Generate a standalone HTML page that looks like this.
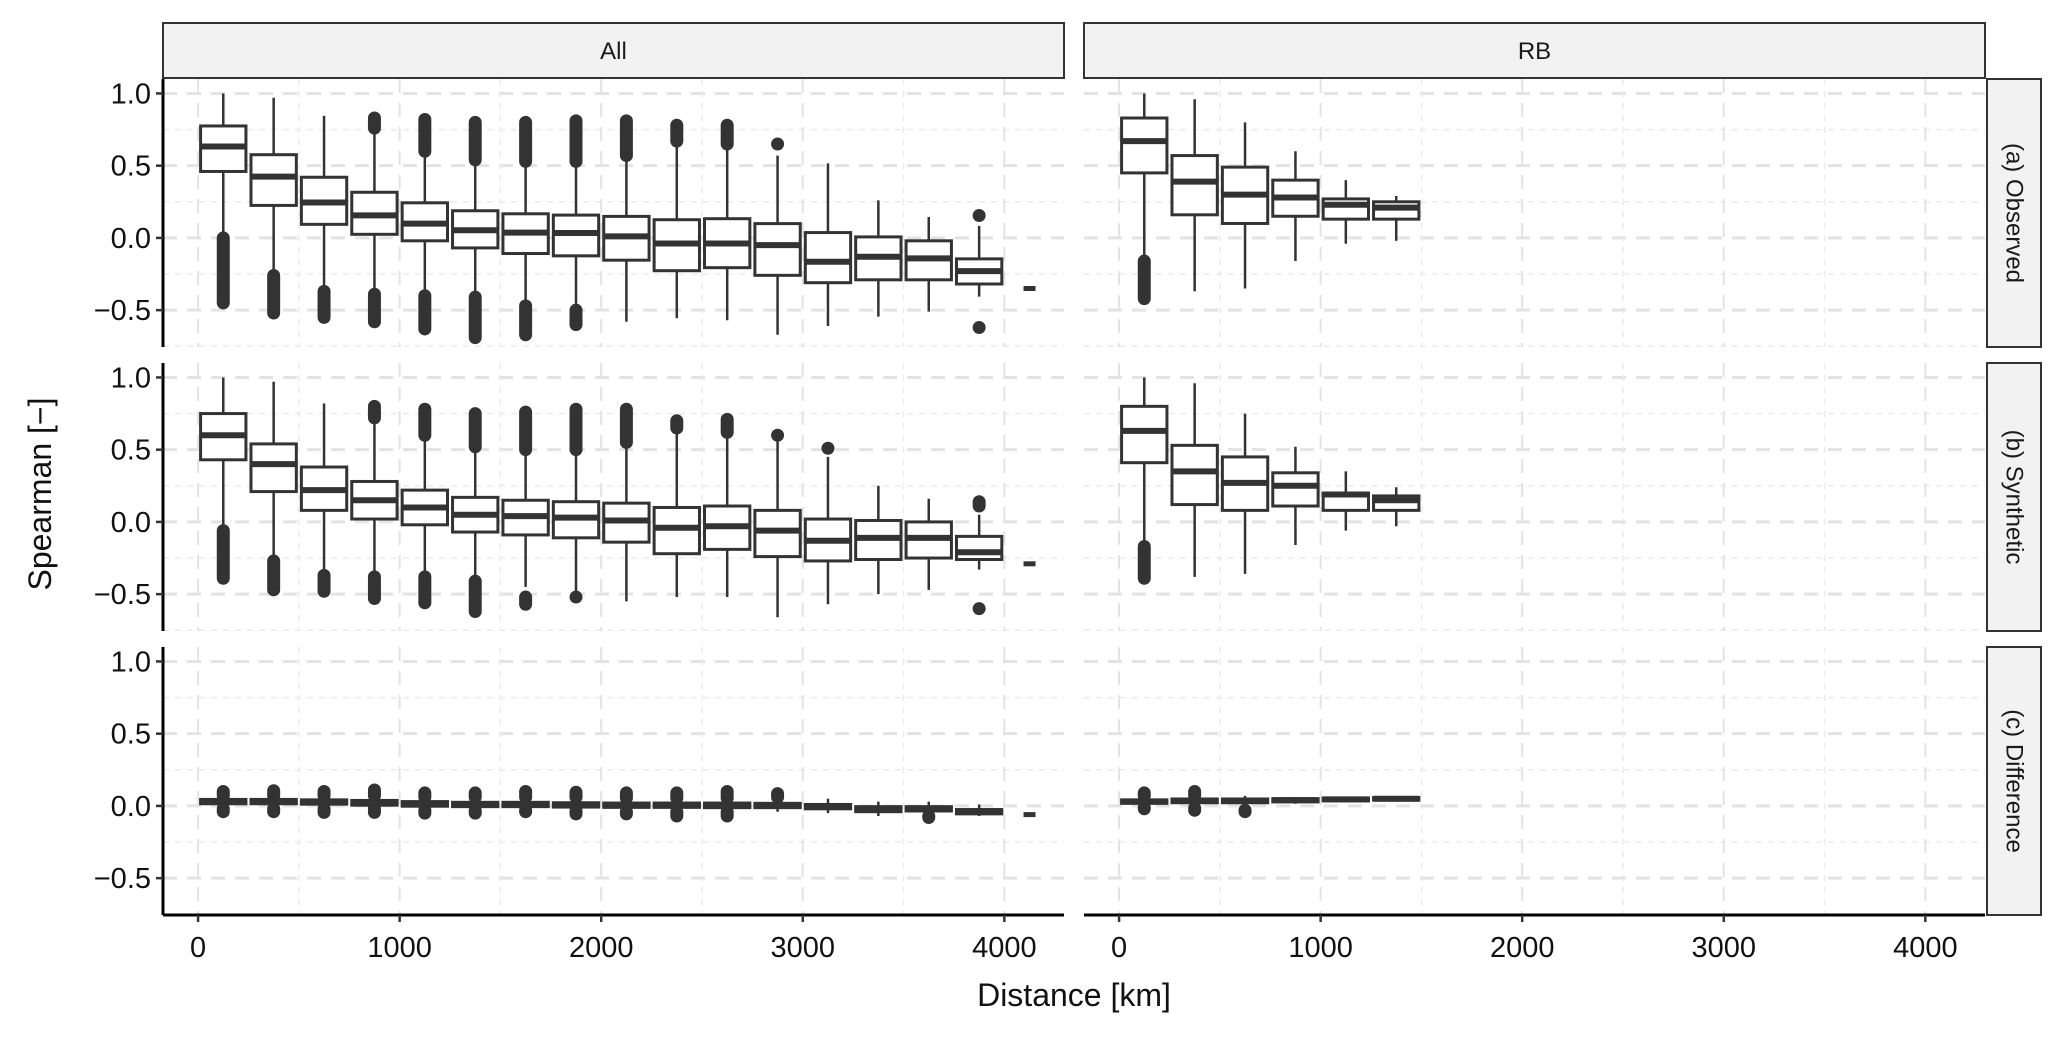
<!DOCTYPE html>
<html><head><meta charset="utf-8"><style>
html,body{margin:0;padding:0;background:#fff;}
svg{display:block;font-family:"Liberation Sans",Arial,sans-serif;}
</style></head><body>
<svg id="chart" width="2067" height="1038" viewBox="0 0 2067 1038" xmlns="http://www.w3.org/2000/svg"></svg>
<script>
// ---- data ----
const binCentersAll = [125,375,625,875,1125,1375,1625,1875,2125,2375,2625,2875,3125,3375,3625,3875];
const binCentersRB = [125,375,625,875,1125,1375];
const yTicks = [-0.5,0,0.5,1.0];
const yTickLabels = ["\u22120.5","0.0","0.5","1.0"];
const xTicks = [0,1000,2000,3000,4000];
const xTickLabels = ["0","1000","2000","3000","4000"];
const rowLabels = ["(a) Observed","(b) Synthetic","(c) Difference"];
const colLabels = ["All","RB"];

// panel a, All
const aAllQ1  = [0.46,0.225,0.094,0.025,-0.02,-0.069,-0.108,-0.124,-0.154,-0.227,-0.206,-0.259,-0.31,-0.29,-0.29,-0.319];
const aAllMed = [0.633,0.424,0.245,0.156,0.099,0.053,0.037,0.034,0.011,-0.039,-0.039,-0.05,-0.165,-0.13,-0.142,-0.23];
const aAllQ3  = [0.775,0.576,0.42,0.316,0.243,0.188,0.167,0.158,0.149,0.126,0.133,0.099,0.037,0.007,-0.02,-0.145];
const aAllWHi = [1.0,0.97,0.846,0.76,0.6,0.535,0.53,0.53,0.57,0.67,0.65,0.57,0.516,0.26,0.145,0.083];
const aAllWLo = [0.03,-0.245,-0.35,-0.37,-0.37,-0.4,-0.46,-0.5,-0.58,-0.555,-0.57,-0.67,-0.61,-0.545,-0.51,-0.406];
const aAllOutHiFrom = [null,null,null,0.76,0.6,0.54,0.53,0.53,0.57,0.67,0.65,0.65,null,null,null,0.155];
const aAllOutHiTo   = [null,null,null,0.83,0.82,0.8,0.8,0.81,0.81,0.78,0.78,0.65,null,null,null,0.155];
const aAllOutLoFrom = [0.0,-0.26,-0.37,-0.39,-0.4,-0.41,-0.47,-0.5,null,null,null,null,null,null,null,-0.62];
const aAllOutLoTo   = [-0.45,-0.52,-0.55,-0.58,-0.63,-0.69,-0.67,-0.6,null,null,null,null,null,null,null,-0.62];
const aAllLast = -0.35;

// panel b, All
const bAllQ1  = [0.43,0.21,0.08,0.02,-0.02,-0.07,-0.09,-0.11,-0.14,-0.22,-0.19,-0.24,-0.27,-0.26,-0.25,-0.26];
const bAllMed = [0.6,0.4,0.22,0.15,0.1,0.05,0.04,0.03,0.01,-0.04,-0.03,-0.06,-0.13,-0.11,-0.11,-0.21];
const bAllQ3  = [0.75,0.54,0.38,0.28,0.22,0.17,0.15,0.14,0.13,0.1,0.11,0.08,0.02,0.01,0.0,-0.1];
const bAllWHi = [1.0,0.97,0.82,0.72,0.6,0.52,0.5,0.5,0.55,0.65,0.62,0.58,0.45,0.25,0.16,0.05];
const bAllWLo = [-0.05,-0.25,-0.35,-0.37,-0.37,-0.4,-0.45,-0.5,-0.55,-0.52,-0.52,-0.66,-0.57,-0.5,-0.47,-0.33];
const bAllOutHiFrom = [null,null,null,0.72,0.6,0.52,0.5,0.5,0.55,0.65,0.62,0.6,0.51,null,null,0.11];
const bAllOutHiTo   = [null,null,null,0.8,0.78,0.75,0.76,0.78,0.78,0.7,0.71,0.6,0.51,null,null,0.14];
const bAllOutLoFrom = [-0.06,-0.27,-0.37,-0.38,-0.38,-0.41,-0.52,-0.52,null,null,null,null,null,null,null,-0.6];
const bAllOutLoTo   = [-0.39,-0.47,-0.48,-0.53,-0.56,-0.62,-0.57,-0.52,null,null,null,null,null,null,null,-0.6];
const bAllLast = -0.29;

// panel c, All
const cAllQ1  = [0.015,0.015,0.012,0.005,-0.002,-0.005,-0.005,-0.008,-0.01,-0.01,-0.012,-0.012,-0.02,-0.04,-0.035,-0.055];
const cAllMed = [0.03,0.03,0.028,0.022,0.015,0.01,0.01,0.008,0.005,0.005,0.003,0.003,-0.005,-0.025,-0.02,-0.04];
const cAllQ3  = [0.045,0.045,0.042,0.038,0.03,0.025,0.025,0.022,0.02,0.02,0.02,0.018,0.01,-0.005,-0.005,-0.025];
const cAllWHi = [0.07,0.07,0.07,0.07,0.06,0.06,0.06,0.06,0.055,0.055,0.055,0.06,0.05,0.03,0.03,0.01];
const cAllWLo = [-0.01,-0.01,-0.015,-0.02,-0.025,-0.03,-0.03,-0.03,-0.035,-0.035,-0.035,-0.04,-0.05,-0.07,-0.06,-0.07];
const cAllOutHiFrom = [0.07,0.07,0.07,0.07,0.06,0.06,0.06,0.06,0.055,0.055,0.055,0.06,null,null,null,null];
const cAllOutHiTo   = [0.1,0.105,0.1,0.11,0.09,0.09,0.1,0.095,0.09,0.09,0.1,0.085,null,null,null,null];
const cAllOutLoFrom = [-0.02,-0.02,-0.02,-0.02,-0.03,-0.03,-0.03,-0.035,-0.04,-0.04,-0.04,null,null,null,-0.07,null];
const cAllOutLoTo   = [-0.04,-0.04,-0.045,-0.045,-0.05,-0.05,-0.04,-0.055,-0.055,-0.07,-0.07,null,null,null,-0.08,null];
const cAllLast = -0.06;

// RB panels
const aRBQ1  = [0.45,0.16,0.1,0.15,0.13,0.13];
const aRBMed = [0.67,0.39,0.3,0.28,0.23,0.21];
const aRBQ3  = [0.83,0.57,0.49,0.4,0.27,0.25];
const aRBWHi = [1.0,0.96,0.8,0.6,0.4,0.29];
const aRBWLo = [-0.14,-0.37,-0.35,-0.16,-0.04,-0.02];
const aRBOutLoFrom = [-0.16,null,null,null,null,null];
const aRBOutLoTo   = [-0.42,null,null,null,null,null];

const bRBQ1  = [0.41,0.12,0.08,0.11,0.08,0.08];
const bRBMed = [0.63,0.35,0.27,0.25,0.19,0.15];
const bRBQ3  = [0.8,0.53,0.45,0.34,0.2,0.18];
const bRBWHi = [1.0,0.96,0.75,0.52,0.35,0.24];
const bRBWLo = [-0.15,-0.38,-0.36,-0.16,-0.06,-0.03];
const bRBOutLoFrom = [-0.17,null,null,null,null,null];
const bRBOutLoTo   = [-0.39,null,null,null,null,null];

const cRBQ1  = [0.018,0.022,0.022,0.028,0.035,0.04];
const cRBMed = [0.03,0.035,0.035,0.04,0.045,0.05];
const cRBQ3  = [0.042,0.048,0.048,0.05,0.055,0.058];
const cRBWHi = [0.07,0.07,0.07,0.06,0.065,0.065];
const cRBWLo = [-0.005,-0.01,-0.01,0.015,0.025,0.03];
const cRBOutHiFrom = [0.07,0.07,null,null,null,null];
const cRBOutHiTo   = [0.09,0.1,null,null,null,null];
const cRBOutLoFrom = [-0.01,-0.015,-0.03,null,null,null];
const cRBOutLoTo   = [-0.02,-0.03,-0.04,null,null,null];

// ---- layout ----
const svg = document.getElementById('chart');
const NS = 'http://www.w3.org/2000/svg';
const colX = [163, 1084];
const panelW = 901;
const rowY = [79, 363, 647];
const panelH = 268;
const xMin = -174, xMax = 4296;
const yMinV = -0.755, yMaxV = 1.10;
function sx(col, km){ return colX[col] + (km - xMin) / (xMax - xMin) * panelW; }
function sy(row, v){ return rowY[row] + (yMaxV - v) / (yMaxV - yMinV) * panelH; }
function mk(tag, attrs, parent){
  const e = document.createElementNS(NS, tag);
  for (const k in attrs) e.setAttribute(k, attrs[k]);
  (parent||svg).appendChild(e);
  return e;
}

// grid
for (let r=0;r<3;r++) for (let c=0;c<2;c++){
  const g = mk('g',{});
  
  
  [-0.75,-0.25,0.25,0.75].forEach(v=>{
    mk('line',{x1:colX[c],x2:colX[c]+panelW,y1:sy(r,v),y2:sy(r,v),stroke:'#ebebeb','stroke-width':1.5,'stroke-dasharray':'6,6'},g);
  });
  yTicks.forEach(v=>{
    mk('line',{x1:colX[c],x2:colX[c]+panelW,y1:sy(r,v),y2:sy(r,v),stroke:'#e3e3e3','stroke-width':3,'stroke-dasharray':'14,10'},g);
  });
  [500,1500,2500,3500].forEach(k=>{
    mk('line',{x1:sx(c,k),x2:sx(c,k),y1:rowY[r],y2:rowY[r]+panelH,stroke:'#ebebeb','stroke-width':1.5,'stroke-dasharray':'6,6'},g);
  });
  xTicks.forEach(k=>{
    mk('line',{x1:sx(c,k),x2:sx(c,k),y1:rowY[r],y2:rowY[r]+panelH,stroke:'#e3e3e3','stroke-width':2,'stroke-dasharray':'14,10'},g);
  });
}

// boxplots
function drawRange(r,c,x,from,to,g){
  if (from===null || to===null || from===undefined) return;
  const o = mk('line',{x1:x,x2:x,y1:sy(r,from),y2:sy(r,to),stroke:'#333','stroke-width':13,'stroke-linecap':'round'},g);
  
  
}
function drawBoxes(r,c,centers,q1,med,q3,wHi,wLo,ohf,oht,olf,olt,last){
  const g = mk('g',{});
  
  
  const half = 112.5/(xMax-xMin)*panelW;
  centers.forEach((km,i)=>{
    const x = sx(c,km);
    const w = mk('line',{x1:x,x2:x,y1:sy(r,wHi[i]),y2:sy(r,wLo[i]),stroke:'#333','stroke-width':2.5});
    g.appendChild(w);
    
    
    if (ohf) drawRange(r,c,x,ohf[i],oht[i],g);
    if (olf) drawRange(r,c,x,olf[i],olt[i],g);
    const yt = sy(r,q3[i]), yb = sy(r,q1[i]);
    const b = mk('rect',{x:x-half,y:yt,width:2*half,height:Math.max(yb-yt,1),fill:'#fff',stroke:'#333','stroke-width':3},g);
    
    
    const m = mk('line',{x1:x-half,x2:x+half,y1:sy(r,med[i]),y2:sy(r,med[i]),stroke:'#333','stroke-width':6},g);
    
    
  });
  if (last!==undefined && last!==null){
    const x = sx(c,4125);
    const d = mk('line',{x1:x-6,x2:x+6,y1:sy(r,last),y2:sy(r,last),stroke:'#333','stroke-width':5},g);
    
    
  }
}
drawBoxes(0,0,binCentersAll,aAllQ1,aAllMed,aAllQ3,aAllWHi,aAllWLo,aAllOutHiFrom,aAllOutHiTo,aAllOutLoFrom,aAllOutLoTo,aAllLast);
drawBoxes(1,0,binCentersAll,bAllQ1,bAllMed,bAllQ3,bAllWHi,bAllWLo,bAllOutHiFrom,bAllOutHiTo,bAllOutLoFrom,bAllOutLoTo,bAllLast);
drawBoxes(2,0,binCentersAll,cAllQ1,cAllMed,cAllQ3,cAllWHi,cAllWLo,cAllOutHiFrom,cAllOutHiTo,cAllOutLoFrom,cAllOutLoTo,cAllLast);
drawBoxes(0,1,binCentersRB,aRBQ1,aRBMed,aRBQ3,aRBWHi,aRBWLo,null,null,aRBOutLoFrom,aRBOutLoTo,null);
drawBoxes(1,1,binCentersRB,bRBQ1,bRBMed,bRBQ3,bRBWHi,bRBWLo,null,null,bRBOutLoFrom,bRBOutLoTo,null);
drawBoxes(2,1,binCentersRB,cRBQ1,cRBMed,cRBQ3,cRBWHi,cRBWLo,cRBOutHiFrom,cRBOutHiTo,cRBOutLoFrom,cRBOutLoTo,null);

// y axes (left column only)
for (let r=0;r<3;r++){
  const g = mk('g',{});
  
  
  mk('line',{x1:colX[0],x2:colX[0],y1:rowY[r],y2:rowY[r]+panelH,stroke:'#000','stroke-width':3},g);
  yTicks.forEach((v,i)=>{
    mk('line',{x1:colX[0]-7,x2:colX[0],y1:sy(r,v),y2:sy(r,v),stroke:'#333','stroke-width':2.5},g);
    const t = mk('text',{x:colX[0]-12,y:sy(r,v)+10,'text-anchor':'end','font-size':29,fill:'#111'},g);
    t.textContent = yTickLabels[i];
    
    
  });
}
// x axes
for (let c=0;c<2;c++){
  const g = mk('g',{});
  
  
  const yb = rowY[2]+panelH;
  mk('line',{x1:colX[c],x2:colX[c]+panelW,y1:yb,y2:yb,stroke:'#000','stroke-width':3},g);
  xTicks.forEach((k,i)=>{
    mk('line',{x1:sx(c,k),x2:sx(c,k),y1:yb,y2:yb+7,stroke:'#333','stroke-width':2.5},g);
    const t = mk('text',{x:sx(c,k),y:yb+42,'text-anchor':'middle','font-size':29,fill:'#111'},g);
    t.textContent = xTickLabels[i];
    
    
  });
}
// column strips
colLabels.forEach((lab,c)=>{
  const g = mk('g',{});
  
  
  mk('rect',{x:colX[c],y:23,width:panelW,height:55,fill:'#f2f2f2',stroke:'#333','stroke-width':2},g);
  const t = mk('text',{x:colX[c]+panelW/2,y:59,'text-anchor':'middle','font-size':24,fill:'#1a1a1a'},g);
  t.textContent = lab;
});
// row strips
rowLabels.forEach((lab,r)=>{
  const g = mk('g',{});
  
  
  mk('rect',{x:1987,y:rowY[r],width:54,height:panelH,fill:'#f2f2f2',stroke:'#333','stroke-width':2},g);
  const cx = 2014, cy = rowY[r]+panelH/2;
  const t = mk('text',{x:cx,y:cy,'text-anchor':'middle','dominant-baseline':'central','font-size':24,fill:'#1a1a1a',transform:'rotate(90 '+cx+' '+cy+')'},g);
  t.textContent = lab;
});
// axis titles
const yt = mk('text',{x:40,y:494,'text-anchor':'middle','dominant-baseline':'central','font-size':32,fill:'#111',transform:'rotate(-90 40 494)'});
yt.textContent = 'Spearman [\u2212]';


const xt = mk('text',{x:1074,y:1006,'text-anchor':'middle','font-size':32,fill:'#111'});
xt.textContent = 'Distance [km]';


</script>
</body></html>
